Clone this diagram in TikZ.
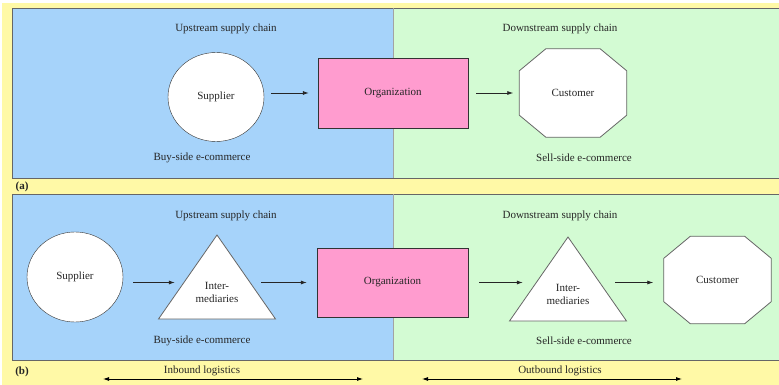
\documentclass[tikz,border=0pt]{standalone}
\usepackage{fontspec}
\setmainfont{Liberation Serif}
\usetikzlibrary{shapes.geometric,arrows.meta}

\definecolor{bgyellow}{HTML}{FFF9A6}
\definecolor{upblue}{HTML}{A6D3FA}
\definecolor{downgreen}{HTML}{D3FBD3}
\definecolor{orgpink}{HTML}{FF9CCF}
\definecolor{edgegray}{HTML}{666666}

\tikzset{
  lbl/.style={font=\fontsize{11}{13}\selectfont, text=black!85, inner sep=1pt},
  supplier/.style={ellipse, draw=black!80, fill=white, minimum width=96pt, minimum height=89pt, inner sep=0pt, lbl},
  org/.style={rectangle, draw=black!80, fill=orgpink, minimum width=150pt, minimum height=70pt, lbl},
  custbox/.style={rectangle, minimum width=107pt, minimum height=88pt, lbl},
  interbox/.style={rectangle, minimum width=70pt, align=center, lbl},
  shapeline/.style={draw=edgegray, fill=white, line width=0.8pt},
  flow/.style={draw=black!85, line width=0.8pt, -{Latex[length=6pt,width=4pt]}},
  logi/.style={draw=black, line width=0.8pt, {Latex[length=6pt,width=4pt]}-{Latex[length=6pt,width=4pt]}}
}

\begin{document}
\begin{tikzpicture}[x=1pt, y=-1pt]
    \useasboundingbox (0,0) rectangle (779,385);
    \clip (0,0) rectangle (779,385);
    \def\chx{26.5pt}
    \def\chy{22pt}

    % background and the two panels
    \fill[bgyellow] (2,3) rectangle (790,390);
    \foreach \top/\bot in {8/178, 194/360} {
        \fill[upblue] (12,\top) rectangle (393,\bot);
        \fill[downgreen] (393,\top) rectangle (790,\bot);
        \draw[edgegray, line width=0.8pt] (12,\top) rectangle (790,\bot);
        \draw[edgegray!60, line width=0.4pt] (393,\top) -- (393,\bot);
    }

    % panel (a)
    \node[lbl] (upA) at (226,29) {Upstream supply chain};
    \node[lbl] (downA) at (560,29) {Downstream supply chain};
    \node[supplier] (supA) at (216,97) {Supplier};
    \node[org] (orgA) at (393,93) {Organization};
    \node[custbox] (custA) at (573,93) {};
    \node[lbl] (buyA) at (202,158) {Buy-side e-commerce};
    \node[lbl] (sellA) at (584,158) {Sell-side e-commerce};
    \node[lbl, font=\fontsize{11}{13}\selectfont\bfseries] (labA) at (22,187) {(a)};

    % panel (b)
    \node[lbl] (upB) at (226,216) {Upstream supply chain};
    \node[lbl] (downB) at (560,216) {Downstream supply chain};
    \node[supplier, minimum height=90pt] (supB) at (75,277) {Supplier};
    \foreach \tx/\ty in {217/235, 568/237}
        \draw[shapeline] (\tx,\ty) -- ++(58.5,84) -- ++(-117,0) -- cycle;
    \node[interbox] (interB) at (217,292) {Inter-\\mediaries};
    \node[org, minimum width=151pt, minimum height=69pt] (orgB) at (392.5,282.5) {Organization};
    \node[interbox] (interC) at (568,294) {Inter-\\mediaries};
    \node[custbox, minimum height=87pt] (custB) at (717.5,280) {};
    \node[lbl] (buyB) at (202,341) {Buy-side e-commerce};
    \node[lbl] (sellB) at (584,341) {Sell-side e-commerce};
    \node[lbl, font=\fontsize{11}{13}\selectfont\bfseries] (labB) at (22,372) {(b)};

    % octagons for the customers
    \foreach \c in {custA, custB} {
        \draw[shapeline] ([xshift=\chx]\c.north west) -- ([xshift=-\chx]\c.north east)
            -- ([yshift=-\chy]\c.north east) -- ([yshift=\chy]\c.south east)
            -- ([xshift=-\chx]\c.south east) -- ([xshift=\chx]\c.south west)
            -- ([yshift=\chy]\c.south west) -- ([yshift=-\chy]\c.north west) -- cycle;
        \node[lbl] at (\c) {Customer};
    }

    % flows
    \draw[flow, shorten <=7pt, shorten >=9pt] (supA.east |- orgA) -- (orgA.west);
    \draw[flow, shorten <=8pt, shorten >=6pt] (orgA.east) -- (custA.west);
    \draw[flow, shorten <=10pt, shorten >=7pt] (supB.east |- orgB) -- (interB.west |- orgB);
    \draw[flow, shorten <=9pt, shorten >=10pt] (interB.east |- orgB) -- (orgB.west);
    \draw[flow, shorten <=11pt, shorten >=10pt] (orgB.east) -- (interC.west |- orgB);
    \draw[flow, shorten <=12pt, shorten >=10.5pt] (interC.east |- orgB) -- (custB.west |- orgB);

    % logistics
    \node[lbl] (inlog) at (202,371) {Inbound logistics};
    \node[lbl] (outlog) at (560,371) {Outbound logistics};
    \coordinate (inL) at (103,379);
    \coordinate (inR) at (363,379);
    \coordinate (outL) at (422,379);
    \coordinate (outR) at (682,379);
    \draw[logi] (inL) -- (inR);
    \draw[logi] (outL) -- (outR);

\end{tikzpicture}
\end{document}
